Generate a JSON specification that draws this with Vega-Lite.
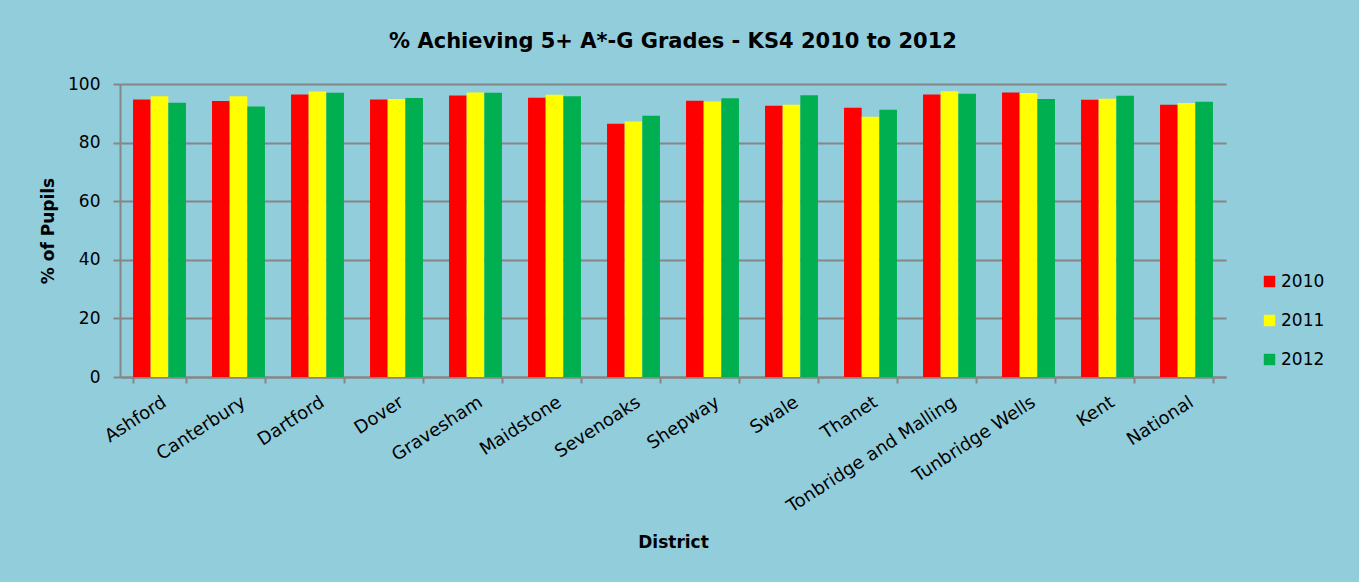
{
  "$schema": "https://vega.github.io/schema/vega-lite/v6.json",
  "width": 1106,
  "height": 293,
  "autosize": {"type": "none"},
  "padding": {"left": 120, "top": 84, "right": 133, "bottom": 205},
  "background": "#92CDDC",
  "title": {
    "text": "% Achieving 5+ A*-G Grades - KS4 2010 to 2012",
    "anchor": "middle",
    "font": "DejaVu Sans",
    "fontSize": 21,
    "fontWeight": "bold",
    "color": "#000000",
    "offset": 23
  },
  "data": {
    "values": [
      {"District": "Ashford", "Year": "2010", "Value": 94.7},
      {"District": "Ashford", "Year": "2011", "Value": 95.8},
      {"District": "Ashford", "Year": "2012", "Value": 93.6},
      {"District": "Canterbury", "Year": "2010", "Value": 94.2},
      {"District": "Canterbury", "Year": "2011", "Value": 95.8},
      {"District": "Canterbury", "Year": "2012", "Value": 92.3},
      {"District": "Dartford", "Year": "2010", "Value": 96.4},
      {"District": "Dartford", "Year": "2011", "Value": 97.4},
      {"District": "Dartford", "Year": "2012", "Value": 97.0},
      {"District": "Dover", "Year": "2010", "Value": 94.7},
      {"District": "Dover", "Year": "2011", "Value": 94.9},
      {"District": "Dover", "Year": "2012", "Value": 95.2},
      {"District": "Gravesham", "Year": "2010", "Value": 96.1},
      {"District": "Gravesham", "Year": "2011", "Value": 97.1},
      {"District": "Gravesham", "Year": "2012", "Value": 97.0},
      {"District": "Maidstone", "Year": "2010", "Value": 95.3},
      {"District": "Maidstone", "Year": "2011", "Value": 96.3},
      {"District": "Maidstone", "Year": "2012", "Value": 95.8},
      {"District": "Sevenoaks", "Year": "2010", "Value": 86.4},
      {"District": "Sevenoaks", "Year": "2011", "Value": 87.2},
      {"District": "Sevenoaks", "Year": "2012", "Value": 89.2},
      {"District": "Shepway", "Year": "2010", "Value": 94.3},
      {"District": "Shepway", "Year": "2011", "Value": 94.0},
      {"District": "Shepway", "Year": "2012", "Value": 95.1},
      {"District": "Swale", "Year": "2010", "Value": 92.6},
      {"District": "Swale", "Year": "2011", "Value": 92.9},
      {"District": "Swale", "Year": "2012", "Value": 96.2},
      {"District": "Thanet", "Year": "2010", "Value": 91.9},
      {"District": "Thanet", "Year": "2011", "Value": 88.8},
      {"District": "Thanet", "Year": "2012", "Value": 91.2},
      {"District": "Tonbridge and Malling", "Year": "2010", "Value": 96.4},
      {"District": "Tonbridge and Malling", "Year": "2011", "Value": 97.5},
      {"District": "Tonbridge and Malling", "Year": "2012", "Value": 96.7},
      {"District": "Tunbridge Wells", "Year": "2010", "Value": 97.1},
      {"District": "Tunbridge Wells", "Year": "2011", "Value": 96.9},
      {"District": "Tunbridge Wells", "Year": "2012", "Value": 94.9},
      {"District": "Kent", "Year": "2010", "Value": 94.6},
      {"District": "Kent", "Year": "2011", "Value": 95.0},
      {"District": "Kent", "Year": "2012", "Value": 96.0},
      {"District": "National", "Year": "2010", "Value": 92.9},
      {"District": "National", "Year": "2011", "Value": 93.5},
      {"District": "National", "Year": "2012", "Value": 93.9}
    ]
  },
  "mark": {"type": "bar"},
  "encoding": {
    "x": {
      "field": "District",
      "type": "nominal",
      "sort": null,
      "scale": {"paddingInner": 0.33, "paddingOuter": 0.165},
      "axis": {
        "title": "District",
        "titleFont": "DejaVu Sans",
        "titleFontSize": 17,
        "titleFontWeight": "bold",
        "titleColor": "#000000",
        "titlePadding": 19,
        "labelFont": "DejaVu Sans",
        "labelFontSize": 18,
        "labelColor": "#000000",
        "labelAngle": -33,
        "labelPadding": 10,
        "labelLimit": 0,
        "tickBand": "extent",
        "tickSize": 6,
        "tickColor": "#868686",
        "tickWidth": 2,
        "domainColor": "#868686",
        "domainWidth": 2,
        "grid": false
      }
    },
    "xOffset": {
      "field": "Year",
      "type": "nominal",
      "sort": ["2010", "2011", "2012"]
    },
    "y": {
      "field": "Value",
      "type": "quantitative",
      "scale": {"domain": [0, 100]},
      "axis": {
        "title": "% of Pupils",
        "titleFont": "DejaVu Sans",
        "titleFontSize": 17,
        "titleFontWeight": "bold",
        "titleColor": "#000000",
        "titlePadding": 10,
        "labelFont": "DejaVu Sans",
        "labelFontSize": 17,
        "labelColor": "#000000",
        "labelPadding": 13,
        "values": [0, 20, 40, 60, 80, 100],
        "tickSize": 7,
        "tickColor": "#868686",
        "tickWidth": 2,
        "domainColor": "#868686",
        "domainWidth": 2,
        "grid": true,
        "gridColor": "#868686",
        "gridWidth": 2
      }
    },
    "color": {
      "field": "Year",
      "type": "nominal",
      "scale": {"domain": ["2010", "2011", "2012"], "range": ["#FF0000", "#FFFF00", "#00B050"]},
      "legend": {
        "title": null,
        "orient": "none",
        "legendX": 1141,
        "legendY": 189,
        "symbolType": "square",
        "symbolSize": 130,
        "symbolStrokeWidth": 0,
        "labelFont": "DejaVu Sans",
        "labelFontSize": 17,
        "labelColor": "#000000",
        "labelOffset": 3,
        "rowPadding": 21
      }
    }
  },
  "config": {
    "view": {"stroke": null}
  }
}
